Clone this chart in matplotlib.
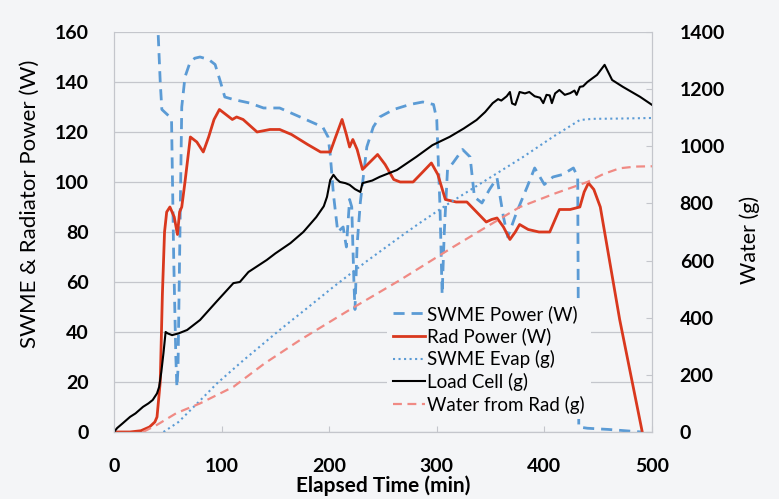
import numpy as np
import matplotlib
matplotlib.use('Agg')
import matplotlib.pyplot as plt

plt.rcParams['font.family'] = ['Lato', 'DejaVu Sans']

# SWME power (W)
t_sw = [40, 41, 43, 44.5, 52, 53.5, 55.5, 57.5, 58.5, 59.5, 61, 63, 66, 70, 75, 80, 88, 94,
        99, 103, 111, 126, 139, 154, 173, 194, 199, 201, 204, 208, 213, 216, 219, 221, 223,
        224, 226, 229, 235, 241, 247, 260, 275, 287, 297, 300, 303, 305, 307, 310, 315, 324,
        331, 335, 342, 349, 356, 362, 366, 374, 384, 391, 400, 408, 417, 427, 431, 432, 440,
        460, 490]
p_sw = [190, 160, 140, 129, 126, 125, 70, 30, 18, 25, 70, 130, 142, 147, 149.5, 150, 149, 147,
        140, 134, 133, 131.6, 129.6, 129.6, 126, 122, 118, 111, 95, 80, 82, 74, 93, 90, 60,
        49, 75, 92, 114, 122, 126, 129, 131, 132, 131, 125, 90, 55, 80, 105, 107.6, 113,
        110, 94, 91.6, 97, 101.6, 86, 78, 87.6, 98, 105.6, 99, 102, 103, 105.6, 102, 2, 1.5,
        1, 0]

# Radiator power (W)
t_rad = [0, 15, 25, 33, 38, 40, 43, 45, 47, 49, 52, 56, 59, 61, 63, 66, 71, 77, 83, 88, 93, 98,
         104, 110, 114, 120, 133, 145, 154, 165, 180, 192, 201, 206, 212, 216, 219, 222, 226,
         231, 238, 245, 252, 260, 266, 278, 287, 295, 301, 308, 318, 328, 337, 346, 351, 356,
         362, 368, 373, 377, 385, 395, 405, 410, 414, 424, 433, 437, 441, 446, 452, 470, 491]
p_rad = [0, 0, 0.5, 2, 4, 6, 20, 55, 80, 88, 90, 86, 79, 88, 90, 100, 118, 116, 112, 118, 125,
         129, 127, 125, 126, 125, 120, 121, 121, 119, 115, 112, 112, 118, 125, 119, 114, 117,
         113, 105, 108, 111, 107, 101, 100, 100, 104, 107.6, 103, 93, 92, 92, 88, 84, 85,
         85.6, 82, 77, 80, 83, 81, 80, 80, 85, 89, 89, 90, 96, 99.6, 97, 90, 45, 0]

# SWME evaporation (g)
t_ev = [46, 60, 80, 96, 120, 154, 180, 204, 235, 266, 284, 310, 346, 380, 408, 433, 445, 470, 500]
g_ev = [0, 35, 110, 171, 250, 357, 435, 508, 598, 683, 731, 797, 882, 962, 1033, 1092, 1096,
        1097, 1099]

# Load cell (g)
t_lc = [0, 3, 8, 15, 20, 27, 32, 36, 40, 42, 44, 46, 48, 50, 54, 60, 68, 80, 95, 111, 117, 125,
        142, 150, 164, 176, 188, 195, 198, 201, 204, 207, 210, 215, 219, 224, 229, 231, 240,
        247, 263, 281, 296, 312, 325, 337, 345, 352, 357, 360, 365, 368, 370, 373, 377, 382,
        386, 391, 396, 399, 402, 405, 407, 410, 414, 419, 424, 428, 430, 433, 436, 440, 449,
        456, 463, 473, 489, 500]
g_lc = [0, 14, 30, 53, 65, 88, 100, 112, 135, 158, 210, 276, 350, 345, 339, 345, 357, 392, 455,
        521, 525, 560, 602, 625, 661, 700, 752, 790, 823, 882, 900, 885, 875, 871, 865, 850,
        840, 871, 880, 893, 917, 963, 1004, 1033, 1062, 1092, 1120, 1151, 1165, 1160, 1175,
        1190, 1150, 1145, 1190, 1185, 1190, 1175, 1170, 1151, 1180, 1178, 1151, 1185, 1197,
        1180, 1186, 1195, 1180, 1208, 1210, 1225, 1250, 1285, 1232, 1208, 1173, 1145]

# Water from radiator (g)
t_wr = [27, 40, 58, 80, 111, 140, 173, 220, 266, 315, 345, 377, 410, 440, 455, 470, 485, 500]
g_wr = [0, 25, 66, 100, 158, 240, 322, 430, 532, 647, 715, 787, 835, 875, 903, 923, 929, 930]

bg = '#f4f5f7'
blue = '#5b9bd5'
red = '#d9381e'
pink = '#f08a84'
gridc = '#c4c6cc'

fig = plt.figure(figsize=(7.79, 4.99), dpi=100, facecolor=bg)
ax1 = fig.add_axes([0.1463, 0.1343, 0.6906, 0.8016])
ax1.set_facecolor(bg)
ax2 = ax1.twinx()

l1, = ax1.plot(t_sw, p_sw, '--', color=blue, lw=2, dashes=(4, 2.5), label='SWME Power (W)')
l2, = ax1.plot(t_rad, p_rad, '-', color=red, lw=2, label='Rad Power (W)')
l3, = ax2.plot(t_ev, g_ev, ':', color=blue, lw=1.5, label='SWME Evap (g)')
l4, = ax2.plot(t_lc, g_lc, '-', color='black', lw=1.5, label='Load Cell (g)')
l5, = ax2.plot(t_wr, g_wr, '--', color=pink, lw=1.6, dashes=(4, 2.5), label='Water from Rad (g)')

ax1.set_xlim(0, 500)
ax1.set_ylim(0, 160)
ax2.set_ylim(0, 1400)
ax1.set_xticks(range(0, 501, 100))
ax1.set_yticks(range(0, 161, 20))
ax2.set_yticks(range(0, 1401, 200))

ax1.grid(axis='y', color=gridc, lw=0.9)
ax1.set_axisbelow(True)
for ax in (ax1, ax2):
    for s in ax.spines.values():
        s.set_color(gridc)
    ax.spines['top'].set_visible(False)

ax1.tick_params(axis='y', length=0, labelsize=14, pad=18)
ax1.tick_params(axis='x', direction='in', length=4, color=gridc, labelsize=14, pad=19)
ax2.tick_params(axis='y', direction='in', length=4, color=gridc, labelsize=14, pad=20)
for lab in ax1.get_xticklabels() + ax1.get_yticklabels() + ax2.get_yticklabels():
    lab.set_fontweight('bold')

ax1.set_xlabel('Elapsed Time (min)', fontsize=15, fontweight='bold', labelpad=0)
ax1.set_ylabel('SWME & Radiator Power (W)', fontsize=16)
ax1.yaxis.set_label_coords(-0.137, 0.57)
ax2.set_ylabel('Water (g)', fontsize=15.5)
ax2.yaxis.set_label_coords(1.163, 0.48)

leg = ax2.legend(handles=[l1, l2, l3, l4, l5], loc='lower left', bbox_to_anchor=(0.49, 0.008),
                 fontsize=13.5, frameon=True, facecolor=bg, edgecolor='none', framealpha=1,
                 handlelength=1.75, handletextpad=0.1, labelspacing=0.25, borderpad=0.3)

fig.savefig('out.png', dpi=100, facecolor=bg)
